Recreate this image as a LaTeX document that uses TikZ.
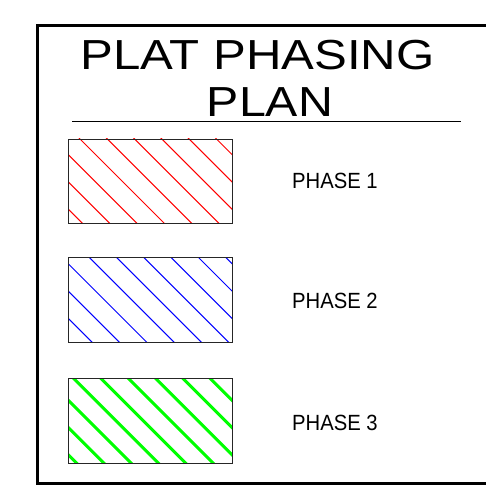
\documentclass[tikz,border=0pt]{standalone}
\usepackage{fontspec}
\setmainfont{Liberation Sans}
\usepackage{graphicx}
\begin{document}
\begin{tikzpicture}[x=1pt,y=-1pt,
  titletext/.style={inner sep=0pt, anchor=base, font=\fontsize{42}{42}\selectfont},
  phasetext/.style={inner sep=0pt, anchor=base west, font=\fontsize{22}{22}\selectfont},
  phasebox/.style={draw=black!85, line width=1pt},
  hatchthin/.style={line width=1pt},
  hatchthick/.style={line width=3pt}]
\useasboundingbox[fill=white] (0,0) rectangle (486,486);
% outer frame (cut off at right)
\draw[line width=3pt, line join=miter] (487,25.5) -- (37.5,25.5) -- (37.5,483.5) -- (487,483.5);
% title
\node[titletext] (t1) at (257.5,70) {\scalebox{1.17}[1]{PLAT PHASING}};
\node[titletext] (t2) at (270,117) {\scalebox{1.15}[1]{PLAN}};
\draw[line width=1pt] (72,121.7) -- (461,121.7);
% phase 1
\begin{scope}
  \clip (68.3,139) rectangle (232,223);
  \foreach \k in {-14,...,7} {
    \draw[red, hatchthin] ({-59+27.3*\k+100},100) -- ({-59+27.3*\k+500},500);
  }
\end{scope}
\node[phasebox, minimum width=163.7pt, minimum height=84pt, inner sep=0pt, anchor=north west] (b1) at (68.3,139) {};
% phase 2
\begin{scope}
  \clip (68.3,257.3) rectangle (232,342);
  \foreach \k in {-14,...,7} {
    \draw[blue, hatchthin] ({-59+27.3*\k+100},100) -- ({-59+27.3*\k+500},500);
  }
\end{scope}
\node[phasebox, minimum width=163.7pt, minimum height=84.7pt, inner sep=0pt, anchor=north west] (b2) at (68.3,257.3) {};
% phase 3
\begin{scope}
  \clip (68.3,378.3) rectangle (232,462.7);
  \foreach \k in {-14,...,7} {
    \draw[green, hatchthick] ({-59+27.3*\k+100},100) -- ({-59+27.3*\k+500},500);
  }
\end{scope}
\node[phasebox, minimum width=163.7pt, minimum height=84.4pt, inner sep=0pt, anchor=north west] (b3) at (68.3,378.3) {};
% labels
\node[phasetext] (l1) at (292,188.3) {\scalebox{0.92}[1]{PHASE 1}};
\node[phasetext] (l2) at (292,308.3) {\scalebox{0.92}[1]{PHASE 2}};
\node[phasetext] (l3) at (292,430) {\scalebox{0.92}[1]{PHASE 3}};
\end{tikzpicture}
\end{document}
